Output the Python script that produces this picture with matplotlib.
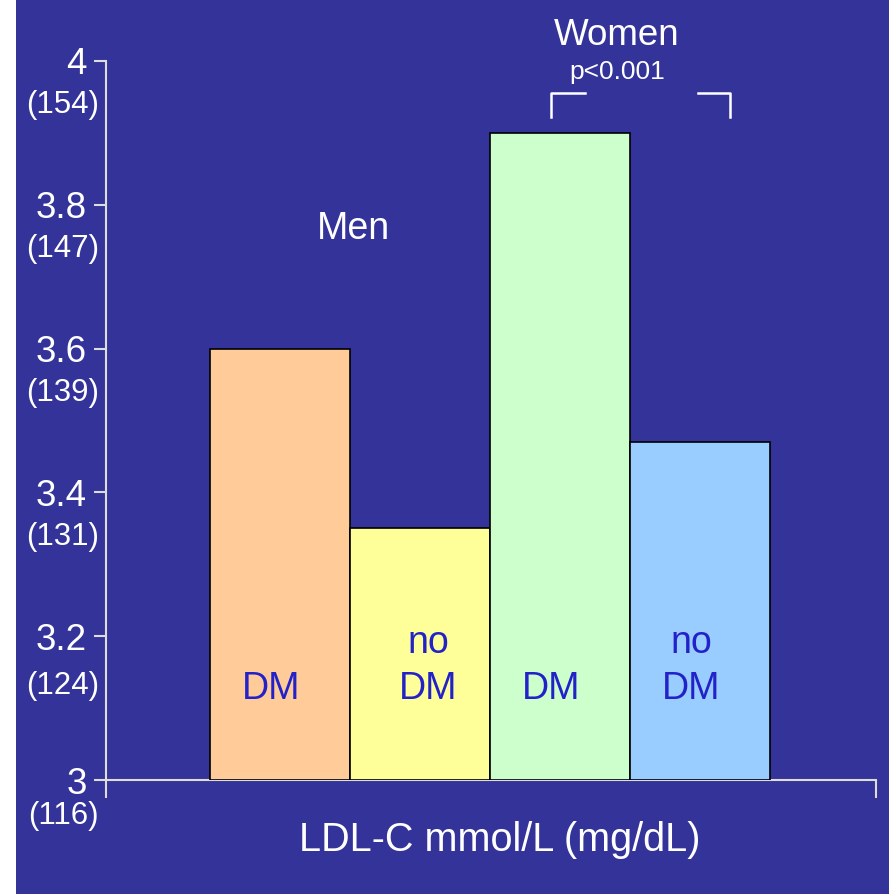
import matplotlib
matplotlib.use("Agg")
import matplotlib.pyplot as plt
from matplotlib.patches import Rectangle

plt.rcParams['font.family'] = ['Liberation Sans', 'DejaVu Sans']

# data
groups = ['Men DM', 'Men no DM', 'Women DM', 'Women no DM']
ldl = [3.60, 3.35, 3.90, 3.47]
bar_colors = ['#FFCC99', '#FFFF99', '#CCFFCC', '#99CCFF']
bar_labels = ['DM', 'no\nDM', 'DM', 'no\nDM']
yticks = [3, 3.2, 3.4, 3.6, 3.8, 4]
ytick_labels = ['3', '3.2', '3.4', '3.6', '3.8', '4']
mg_labels = ['(116)', '(124)', '(131)', '(139)', '(147)', '(154)']

bg = '#333399'
W, H = 893, 894

fig = plt.figure(figsize=(W / 100, H / 100), dpi=100, facecolor='white')
fig.patches.append(Rectangle((16 / W, 0), (889 - 16) / W, 1, transform=fig.transFigure,
                             facecolor=bg, edgecolor='none', zorder=-5))

ax = fig.add_axes([106 / W, (H - 780) / H, (876 - 106) / W, (780 - 61) / H])
ax.set_facecolor('none')

x = list(range(len(ldl)))
ax.bar(x, [v - 3 for v in ldl], bottom=3, width=1.0, color=bar_colors,
       edgecolor='black', linewidth=1.2, zorder=2)

ax.set_xlim(-1.24, 4.26)
ax.set_ylim(3, 4)

for s in ['top', 'right']:
    ax.spines[s].set_visible(False)
for s in ['left', 'bottom']:
    ax.spines[s].set_color('#dddddd')
    ax.spines[s].set_linewidth(1.5)
    ax.spines[s].set_zorder(1)

ax.set_xticks([-1.24, 4.26])
ax.set_xticklabels([])
ax.tick_params(axis='x', length=13, width=1.5, color='#dddddd', direction='out')

ax.set_yticks(yticks)
ax.set_yticklabels(ytick_labels, fontsize=26.5, color='white')
ax.tick_params(axis='y', length=9, width=1.5, color='#dddddd', pad=5)

# mg/dL labels under each tick (pixel offsets below the tick)
mg_offsets = [-36, -50, -45, -44, -44, -44]
for yv, lab, off in zip(yticks, mg_labels, mg_offsets):
    ax.annotate(lab, xy=(0, yv), xycoords=('axes fraction', 'data'),
                xytext=(-7, off), textcoords='offset pixels',
                ha='right', va='center', fontsize=22.5, color='white',
                annotation_clip=False)

# labels inside bars
txt_x = [-0.06, 0.06, -0.06, -0.06]
txt_x = [xi + dx for xi, dx in zip(x, txt_x)]
for xi, lab in zip(txt_x, bar_labels):
    ax.text(xi, 3.127, lab.split('\n')[-1], ha='center', va='center',
            fontsize=27, color='#2222C8', zorder=3)
    if '\n' in lab:
        ax.text(xi, 3.191, lab.split('\n')[0], ha='center', va='center',
                fontsize=27, color='#2222C8', zorder=3)

ax.text(0.53, 3.766, 'Men', ha='center', va='center', fontsize=27, color='white')
ax.text(2.41, 4.035, 'Women', ha='center', va='center', fontsize=26.5,
        color='white', clip_on=False)
ax.text(2.41, 3.985, 'p<0.001', ha='center', va='center', fontsize=19,
        color='white', clip_on=False)

# bracket
ax.plot([1.94, 1.94, 2.18], [3.922, 3.955, 3.955], color='white', lw=1.8, clip_on=False)
ax.plot([2.99, 3.22, 3.22], [3.955, 3.955, 3.922], color='white', lw=1.8, clip_on=False)

fig.text(500 / W, 1 - 840 / H, 'LDL-C mmol/L (mg/dL)', ha='center', va='center',
         fontsize=28.5, color='white')

fig.savefig('out.png', dpi=100, facecolor='white')
